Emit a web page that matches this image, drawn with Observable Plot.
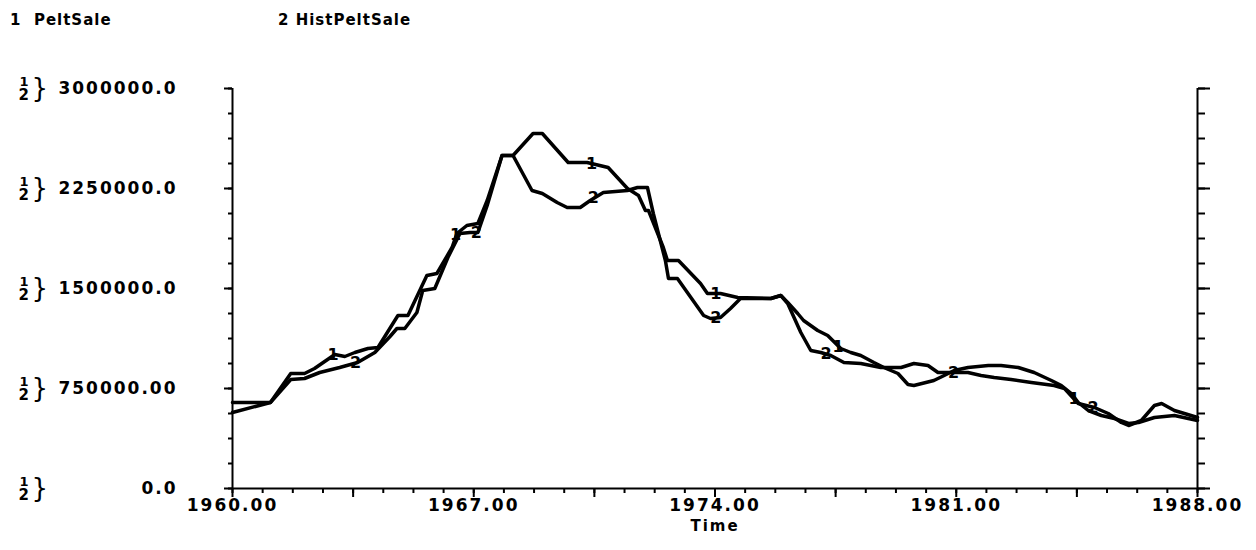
<!DOCTYPE html>
<html><head><meta charset="utf-8">
<script src="https://cdn.jsdelivr.net/npm/d3@7"></script>
<script src="https://cdn.jsdelivr.net/npm/@observablehq/plot@0.6"></script>
<style>
body{margin:0;background:#fff;font-family:"DejaVu Sans",sans-serif;}
#legend{position:relative;height:45px;width:1256px;font-weight:bold;font-size:15px;letter-spacing:1px;color:#000;}
#legend span{position:absolute;top:11px;white-space:pre;}
#chart svg text{letter-spacing:2px;}
</style></head><body>
<div id="legend"></div>
<div id="chart"></div>
<script>
// ---- data ----
const seriesNames = ["PeltSale", "HistPeltSale"];
const seriesKeys = ["1", "2"];

const years1 = [1960.00,1961.10,1961.69,1962.09,1962.38,1962.59,1962.97,1963.26,1963.55,1963.93,1964.22,1964.80,1965.09,1965.64,1965.93,1966.37,1966.51,1966.80,1967.12,1967.39,1967.82,1968.14,1968.72,1968.99,1969.74,1970.29,1970.90,1971.46,1971.78,1971.98,1972.07,1972.50,1972.62,1972.94,1973.58,1973.78,1974.16,1974.66,1975.62,1975.91,1976.11,1976.40,1976.57,1976.98,1977.27,1977.65,1977.94,1978.23,1978.61,1978.90,1979.31,1979.60,1979.77,1980.35,1980.65,1980.94,1981.34,1981.93,1982.30,1982.80,1983.26,1983.76,1984.05,1984.34,1984.54,1984.83,1985.21,1985.59,1986.00,1986.29,1986.75,1987.33,1988.00];
const peltSale = [645000,645000,862500,862500,900000,937500,1005000,990000,1020000,1050000,1057500,1297500,1297500,1597500,1612500,1807500,1912500,1972500,1987500,2160000,2497500,2497500,2662500,2662500,2445000,2445000,2407500,2250000,2197500,2085000,2085000,1807500,1710000,1710000,1537500,1462500,1462500,1432500,1425000,1447500,1395000,1312500,1260000,1185000,1147500,1050000,1020000,997500,945000,907500,862500,780000,772500,810000,847500,885000,907500,922500,922500,907500,870000,810000,772500,712500,645000,585000,547500,525000,487500,495000,532500,547500,510000];

const years2 = [1960.00,1961.10,1961.69,1962.09,1962.53,1963.11,1963.63,1964.13,1964.57,1964.77,1965.00,1965.35,1965.52,1965.87,1966.25,1966.60,1966.89,1967.12,1967.39,1967.82,1968.14,1968.69,1968.99,1969.42,1969.71,1970.09,1970.38,1970.76,1971.46,1971.75,1972.04,1972.21,1972.56,1972.65,1972.91,1973.67,1973.87,1974.16,1974.45,1974.74,1975.62,1975.91,1976.11,1976.49,1976.78,1977.07,1977.36,1977.74,1978.23,1978.81,1979.40,1979.77,1980.18,1980.47,1980.94,1981.34,1981.72,1982.10,1982.59,1983.18,1983.84,1984.14,1984.54,1985.01,1985.41,1985.79,1986.00,1986.37,1986.75,1986.96,1987.33,1987.62,1988.00];
const histPeltSale = [570000,645000,817500,825000,870000,907500,945000,1020000,1140000,1200000,1200000,1320000,1485000,1500000,1732500,1912500,1920000,1920000,2122500,2497500,2497500,2235000,2212500,2145000,2107500,2107500,2160000,2220000,2235000,2257500,2257500,2062500,1710000,1575000,1575000,1297500,1275000,1282500,1350000,1425000,1425000,1447500,1387500,1170000,1035000,1020000,997500,945000,937500,907500,907500,937500,922500,870000,870000,870000,847500,832500,817500,795000,772500,750000,637500,607500,562500,495000,472500,510000,622500,637500,585000,562500,532500];

// where the curve numbers are printed along each line
const labelYears1 = [1962.95, 1966.5, 1970.45, 1974.05, 1977.6, 1984.45];
const labelYears2 = [1963.6, 1967.1, 1970.5, 1974.05, 1977.25, 1980.95, 1985.0];

// axes
const xLabelTicks = [1960, 1967, 1974, 1981, 1988];
const xMajorTicks = d3.range(0, 9).map(i => 1960 + i * 3.5);
const xMinorTicks = d3.range(0, 33).map(i => 1960 + i * 0.875);
const yMajorTicks = [0, 750000, 1500000, 2250000, 3000000];
const yTickLabels = ["0.0", "750000.00", "1500000.0", "2250000.0", "3000000.0"];
const yMinorTicks = d3.range(0, 17).map(i => i * 187500);
const xAxisTitle = "Time";

// ---- legend ----
const legend = document.getElementById("legend");
const legendLeft = [10, 278];
seriesNames.forEach((n, i) => {
  const s = document.createElement("span");
  s.style.left = legendLeft[i] + "px";
  s.textContent = seriesKeys[i] + (i === 0 ? "  " : " ") + n;
  legend.appendChild(s);
});

// ---- chart ----
const s1 = years1.map((t, i) => ({t, v: peltSale[i]}));
const s2 = years2.map((t, i) => ({t, v: histPeltSale[i]}));
const f1 = d3.scaleLinear().domain(years1).range(peltSale);
const f2 = d3.scaleLinear().domain(years2).range(histPeltSale);

const chart = Plot.plot({
  width: 1256,
  height: 505,
  marginLeft: 232,
  marginRight: 59,
  marginTop: 43,
  marginBottom: 62,
  x: {domain: [1960, 1988]},
  y: {domain: [0, 3000000]},
  style: {fontFamily: "DejaVu Sans", fontSize: "17px", fontWeight: "bold", color: "#000", background: "#fff", overflow: "visible"},
  marks: [
    Plot.ruleY([0], {strokeWidth: 2}),
    Plot.ruleX([1960, 1988], {strokeWidth: 2}),
    Plot.axisX({ticks: xMinorTicks, tickSize: 5, strokeWidth: 2, tickFormat: () => "", label: null}),
    Plot.axisX({ticks: xMajorTicks, tickSize: 9, strokeWidth: 2, tickFormat: () => "", label: null}),
    Plot.axisX({ticks: xLabelTicks, tickSize: 0, tickPadding: 10, tickFormat: d => d.toFixed(2), label: null}),
    Plot.text([xAxisTitle], {frameAnchor: "bottom", dy: 38, text: d => d, fontSize: 15, lineAnchor: "middle"}),
    Plot.axisY({ticks: yMinorTicks, tickSize: 4, strokeWidth: 2, tickFormat: () => "", label: null}),
    Plot.axisY({ticks: yMajorTicks, tickSize: 8, strokeWidth: 2, tickPadding: 47, tickFormat: d => yTickLabels[yMajorTicks.indexOf(d)], label: null}),
    Plot.axisY({anchor: "right", ticks: yMinorTicks, tickSize: 7, strokeWidth: 2, tickFormat: () => "", label: null}),
    Plot.axisY({anchor: "right", ticks: yMajorTicks, tickSize: 12, strokeWidth: 2, tickFormat: () => "", label: null}),
    // "1 over 2 }" markers beside each y label
    Plot.text(yMajorTicks, {y: d => d, frameAnchor: "left", dx: -213, dy: -7, text: () => seriesKeys[0], fontSize: 13}),
    Plot.text(yMajorTicks, {y: d => d, frameAnchor: "left", dx: -214, dy: 7, text: () => seriesKeys[1], fontSize: 15}),
    Plot.text(yMajorTicks, {y: d => d, frameAnchor: "left", dx: -201, dy: 0, text: () => "}", fontSize: 26, fontWeight: "normal"}),
    Plot.line(s1, {x: "t", y: "v", stroke: "#000", strokeWidth: 3.5, strokeLinejoin: "round"}),
    Plot.line(s2, {x: "t", y: "v", stroke: "#000", strokeWidth: 3.5, strokeLinejoin: "round"}),
    Plot.text(labelYears1, {x: d => d, y: d => f1(d), text: () => seriesKeys[0], fontSize: 16}),
    Plot.text(labelYears2, {x: d => d, y: d => f2(d), text: () => seriesKeys[1], fontSize: 16})
  ]
});
document.getElementById("chart").appendChild(chart);
</script>
</body></html>
